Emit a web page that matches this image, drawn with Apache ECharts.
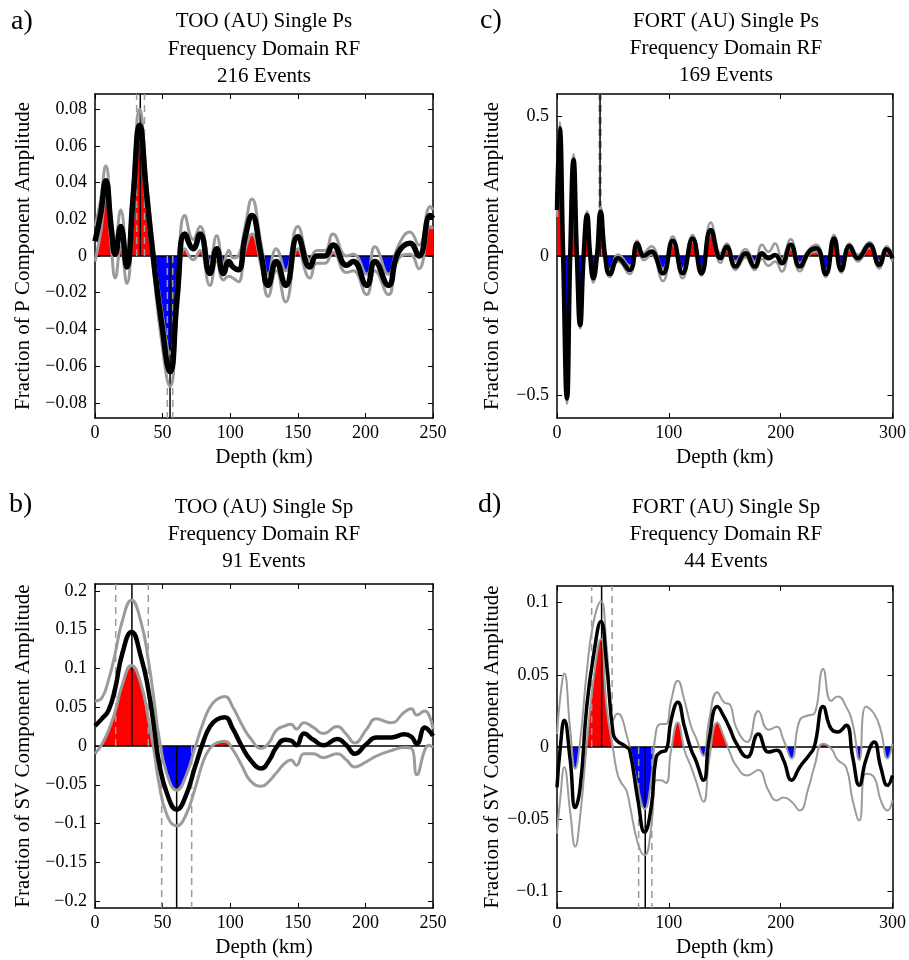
<!DOCTYPE html>
<html><head><meta charset="utf-8">
<script src="https://cdn.jsdelivr.net/npm/echarts@6/dist/echarts.min.js"></script>
<style>html,body{margin:0;padding:0;background:#fff}#c{width:909px;height:960px}</style>
</head><body><div id="c"></div>
<script>
// ---------- Panel a) TOO Ps ----------
const aTitle = ['TOO (AU) Single Ps', 'Frequency Domain RF', '216 Events'];
const aDepth = [0,4,8,12,15,19,23.5,28,33,38,43,49,55.5,61,66.5,72.7,77.7,85,90,95,99,102,106,111,116,123,128,134,141,150,159,164,170,176,186,191,201,207,217,224,233,239.5,248,250];
const aMean  = [0.008,0.022,0.041,0.015,0.001,0.016,-0.006,0.03,0.071,0.035,0.0,-0.035,-0.063,-0.02,0.012,0.004,0.012,-0.0095,0.004,-0.0095,-0.003,-0.006,-0.0075,0.01,0.022,0.0,-0.016,-0.003,-0.016,0.0105,-0.006,0.0,0.0,0.006,-0.005,-0.003,-0.016,-0.003,-0.016,0.0015,0.007,0.0,0.022,0.0205];
const aUpper = [0.016,0.030,0.049,0.022,0.008,0.025,0.002,0.038,0.080,0.042,0.005,-0.028,-0.053,-0.012,0.022,0.009,0.016,-0.003,0.011,-0.004,0.003,-0.001,0.0,0.016,0.031,0.006,-0.010,0.004,-0.008,0.016,-0.002,0.003,0.003,0.012,0.0,0.001,-0.010,0.005,-0.010,0.005,0.013,0.006,0.027,0.025];
const aLower = [-0.003,0.012,0.032,0.005,-0.012,0.005,-0.015,0.020,0.063,0.027,-0.006,-0.045,-0.071,-0.030,0.004,-0.002,0.003,-0.016,-0.003,-0.013,-0.011,-0.012,-0.014,0.003,0.012,-0.006,-0.022,-0.008,-0.025,0.004,-0.012,-0.004,-0.004,0.002,-0.009,-0.008,-0.021,-0.008,-0.021,-0.002,0.001,-0.007,0.016,0.015];
const aPeak = {solid:[33.5], dashed:[30.8,36.6]};
const aTrough = {solid:[55.5], dashed:[53.5,57.5]};
const aXTicks = [0,50,100,150,200,250];
const aYTicks = [-0.08,-0.06,-0.04,-0.02,0,0.02,0.04,0.06,0.08];

// ---------- Panel b) TOO Sp ----------
const bTitle = ['TOO (AU) Single Sp', 'Frequency Domain RF', '91 Events'];
const bDepth = [0,5,10,15,20,27,34,39.5,44,47,53,60.5,67,74,80,85,90,96,102,108.5,115,123,129,134,140.5,145,149,154.6,161.5,169,179,186,192,201,208,219,229,234,238,244,247,250];
const bMean  = [0.026,0.035,0.046,0.075,0.118,0.147,0.115,0.072,0.02,-0.018,-0.06,-0.082,-0.065,-0.027,0.005,0.025,0.034,0.037,0.022,0.0,-0.018,-0.029,-0.018,-0.002,0.008,0.007,0.001,0.016,0.008,0.001,0.009,0.001,-0.010,0.003,0.011,0.011,0.015,0.012,0.003,0.024,0.02,0.013];
const bUpper = [0.058,0.062,0.085,0.12,0.16,0.188,0.16,0.11,0.055,0.015,-0.035,-0.057,-0.04,-0.002,0.03,0.05,0.06,0.064,0.05,0.028,0.01,-0.003,0.005,0.02,0.026,0.028,0.022,0.03,0.024,0.016,0.025,0.015,0.004,0.022,0.035,0.03,0.044,0.048,0.04,0.045,0.04,0.022];
const bLower = [-0.01,0.002,0.02,0.045,0.078,0.104,0.08,0.035,-0.01,-0.045,-0.088,-0.103,-0.09,-0.055,-0.02,-0.003,0.004,0.006,-0.005,-0.025,-0.045,-0.052,-0.045,-0.035,-0.022,-0.018,-0.025,-0.01,-0.01,-0.015,-0.01,-0.018,-0.027,-0.02,-0.013,-0.006,-0.002,-0.003,-0.037,-0.005,0.001,-0.002];
const bPeak = {solid:[27.3], dashed:[15.3,39.4]};
const bTrough = {solid:[60.4], dashed:[49.3,71.5]};
const bXTicks = [0,50,100,150,200,250];
const bYTicks = [-0.2,-0.15,-0.1,-0.05,0,0.05,0.1,0.15,0.2];

// ---------- Panel c) FORT Ps ----------
const cTitle = ['FORT (AU) Single Ps', 'Frequency Domain RF', '169 Events'];
const cDepth = [0,2.4,5.5,8.9,11.8,14.8,17.8,20.7,23.8,26.9,29.7,32.5,35.7,39,43,47.3,54.7,65,71.8,77.7,84.2,94.6,103.5,112.3,121.2,129.2,137.5,146.3,151.7,159.6,168.5,176.8,183.3,189,195,201,209,217,225.5,232,240.3,247.7,254.2,261.6,269,279.3,288.2,294.7,300];
const cMean  = [0.165,0.458,0.0,-0.511,0.0,0.345,0.0,-0.248,0.0,0.147,0.0,-0.08,0.0,0.159,0.0,-0.065,-0.008,-0.05,0.045,0.0,0.016,-0.062,0.055,-0.062,0.063,-0.062,0.093,-0.008,0.033,-0.038,0.01,-0.038,0.01,-0.008,0.004,-0.026,0.04,-0.038,0.016,0.028,-0.065,0.063,-0.05,0.036,-0.008,0.04,-0.032,0.024,-0.008];
const cUpper = [0.19,0.48,0.03,-0.49,0.02,0.365,0.02,-0.23,0.01,0.16,0.01,-0.065,0.01,0.175,0.01,-0.05,0.005,-0.035,0.055,0.012,0.035,-0.045,0.07,-0.045,0.075,-0.05,0.12,0.01,0.045,-0.02,0.025,-0.02,0.04,0.015,0.045,-0.01,0.06,-0.025,0.025,0.04,-0.05,0.075,-0.035,0.045,0.005,0.05,-0.02,0.035,0.005];
const cLower = [0.14,0.43,-0.03,-0.53,-0.02,0.325,-0.02,-0.26,-0.01,0.13,-0.01,-0.095,-0.01,0.14,-0.015,-0.075,-0.02,-0.065,0.03,-0.015,0.005,-0.09,0.04,-0.08,0.05,-0.07,0.075,-0.025,0.02,-0.05,-0.005,-0.05,-0.01,-0.035,-0.02,-0.056,0.025,-0.055,0.005,0.015,-0.075,0.05,-0.06,0.025,-0.02,0.03,-0.045,0.015,-0.02];
const cPeak = {solid:[38.5], dashed:[37.7,39.3]};
const cTrough = {solid:[], dashed:[]};
const cXTicks = [0,100,200,300];
const cYTicks = [-0.5,0,0.5];

// ---------- Panel d) FORT Sp ----------
const dTitle = ['FORT (AU) Single Sp', 'Frequency Domain RF', '44 Events'];
const dDepth = [0,3,6.5,11.8,16.3,20.7,26.6,32.5,39.3,44.3,50.3,54,57.6,62,65,72.4,78.3,84.2,88.7,93,97.5,102,108,114,120,124,131,136,143.4,149.3,155,160,170,180,189,196.5,202.5,209.8,217,225,230,238,245,251,258.5,264.4,270.3,276.2,283.6,289.5,295.5,300];
const dMean  = [-0.028,0.0,0.0185,-0.009,-0.042,-0.028,0.028,0.0625,0.087,0.058,0.009,0.004,0.0023,0.0,-0.0023,-0.037,-0.059,-0.042,-0.007,-0.0035,-0.0023,0.0185,0.031,0.014,-0.002,-0.009,-0.023,0.005,0.028,0.021,0.012,0.003,-0.007,0.009,-0.0035,-0.0023,-0.009,-0.023,-0.014,-0.006,0.0,0.028,0.0127,0.0104,0.015,-0.007,-0.0266,-0.009,0.0035,-0.014,-0.0266,-0.0197];
const dUpper = [0.009,0.035,0.051,0.012,-0.015,0.004,0.052,0.086,0.101,0.07,0.0185,0.023,0.021,0.009,0.0,-0.028,-0.043,-0.023,0.0116,0.016,0.016,0.032,0.046,0.032,0.014,0.007,-0.006,0.0185,0.038,0.031,0.029,0.014,0.0035,0.025,0.012,0.014,0.005,-0.008,0.0185,0.022,0.023,0.054,0.032,0.035,0.028,0.016,-0.009,0.028,0.023,0.0116,-0.008,0.0023];
const dLower = [-0.06,-0.035,-0.014,-0.045,-0.069,-0.048,0.002,0.046,0.075,0.028,-0.0023,-0.0185,-0.025,-0.03,-0.04,-0.067,-0.075,-0.056,-0.023,-0.023,-0.025,-0.0023,0.017,-0.0023,-0.014,-0.023,-0.038,-0.009,0.017,0.007,-0.0046,-0.0127,-0.0197,-0.016,-0.03,-0.037,-0.035,-0.038,-0.044,-0.028,-0.014,0.0023,-0.001,-0.009,-0.014,-0.037,-0.051,-0.0185,-0.021,-0.037,-0.044,-0.037];
const dPeak = {solid:[39.9], dashed:[31,49.3]};
const dTrough = {solid:[78.9], dashed:[73,84.8]};
const dXTicks = [0,100,200,300];
const dYTicks = [-0.1,-0.05,0,0.05,0.1];

const FONT = '"Liberation Serif","Times New Roman",serif';
const GRAY = '#9b9b9b';

const panels = [
  {letter:'a)', title:aTitle, depth:aDepth, mean:aMean, upper:aUpper, lower:aLower, peak:aPeak, trough:aTrough,
   xTicks:aXTicks, yTicks:aYTicks, xMax:250, yMin:-0.0882, yMax:0.0882,
   grid:{left:95, top:94, width:338, height:324}, yName:'Fraction of P Component Amplitude', yGap:61,
   meanW:5.5, grayW:3, titleY:[21.5,49,76.5], letterPos:[11,22]},
  {letter:'c)', title:cTitle, depth:cDepth, mean:cMean, upper:cUpper, lower:cLower, peak:cPeak, trough:cTrough,
   xTicks:cXTicks, yTicks:cYTicks, xMax:300, yMin:-0.581, yMax:0.581,
   grid:{left:557, top:94, width:338, height:324}, yName:'Fraction of P Component Amplitude', yGap:54,
   meanW:4.5, grayW:2.5, titleY:[21,48,75], letterPos:[480,21]},
  {letter:'b)', title:bTitle, depth:bDepth, mean:bMean, upper:bUpper, lower:bLower, peak:bPeak, trough:bTrough,
   xTicks:bXTicks, yTicks:bYTicks, xMax:250, yMin:-0.209, yMax:0.209,
   grid:{left:95, top:584, width:338, height:324}, yName:'Fraction of SV Component Amplitude', yGap:61,
   meanW:4.5, grayW:3, titleY:[507,534,561.5], letterPos:[9,505]},
  {letter:'d)', title:dTitle, depth:dDepth, mean:dMean, upper:dUpper, lower:dLower, peak:dPeak, trough:dTrough,
   xTicks:dXTicks, yTicks:dYTicks, xMax:300, yMin:-0.1116, yMax:0.1116,
   grid:{left:557, top:586, width:338, height:322}, yName:'Fraction of SV Component Amplitude', yGap:54,
   meanW:3.5, grayW:2, titleY:[507,534,561.5], letterPos:[478,505]}
];

const fmt = v => { const r = +(+v).toFixed(4); return (r < 0 ? '\u2212' : '') + String(Math.abs(r)); };
const zip = (xs, ys) => xs.map((x, i) => [x, ys[i]]);

const grids = [], xAxes = [], yAxes = [], series = [], graphics = [];
const redIdx = [], blueIdx = [];

panels.forEach((p, g) => {
  grids.push(Object.assign({containLabel:false}, p.grid));
  const axLine = {show:true, onZero:false, lineStyle:{color:'#000', width:1.5}};
  const lab = {fontFamily:FONT, fontSize:18, color:'#000'};
  xAxes.push({gridIndex:g, type:'value', min:0, max:p.xMax, position:'bottom',
    axisLine:axLine, splitLine:{show:false},
    axisTick:{show:true, inside:true, length:5, customValues:p.xTicks, lineStyle:{color:'#000', width:1}},
    axisLabel:Object.assign({customValues:p.xTicks, margin:6, formatter:fmt}, lab),
    name:'Depth (km)', nameLocation:'middle', nameGap:29,
    nameTextStyle:{fontFamily:FONT, fontSize:21, color:'#000'}});
  xAxes.push({gridIndex:g, type:'value', min:0, max:p.xMax, position:'top',
    axisLine:axLine, splitLine:{show:false},
    axisTick:{show:true, inside:true, length:5, customValues:p.xTicks, lineStyle:{color:'#000', width:1}},
    axisLabel:{show:false}});
  yAxes.push({gridIndex:g, type:'value', min:p.yMin, max:p.yMax, position:'left',
    axisLine:axLine, splitLine:{show:false},
    axisTick:{show:true, inside:true, length:5, customValues:p.yTicks, lineStyle:{color:'#000', width:1}},
    axisLabel:Object.assign({customValues:p.yTicks, margin:8, formatter:fmt}, lab),
    name:p.yName, nameLocation:'middle', nameGap:p.yGap,
    nameTextStyle:{fontFamily:FONT, fontSize:21, color:'#000'}});
  yAxes.push({gridIndex:g, type:'value', min:p.yMin, max:p.yMax, position:'right',
    axisLine:axLine, splitLine:{show:false},
    axisTick:{show:true, inside:true, length:5, customValues:p.yTicks, lineStyle:{color:'#000', width:1}},
    axisLabel:{show:false}});
  const xi = 2 * g, yi = 2 * g;
  const base = {type:'line', xAxisIndex:xi, yAxisIndex:yi, symbol:'none', animation:false, silent:true};

  // red fill (lower bound above zero)
  redIdx.push(series.length);
  series.push(Object.assign({}, base, {data:zip(p.depth, p.lower), smooth:0.5,
    lineStyle:{width:0, opacity:0}, areaStyle:{origin:0, opacity:1}, z:1}));
  // blue fill (upper bound below zero)
  blueIdx.push(series.length);
  series.push(Object.assign({}, base, {data:zip(p.depth, p.upper), smooth:0.5,
    lineStyle:{width:0, opacity:0}, areaStyle:{origin:0, opacity:1}, z:1}));
  // zero line
  series.push(Object.assign({}, base, {data:[[0,0],[p.xMax,0]], lineStyle:{color:'#000', width:1.3}, z:2}));
  // vertical marker lines
  const vline = (x, y0, y1, dashed) => series.push(Object.assign({}, base, {
    data:[[x,y0],[x,y1]],
    lineStyle: dashed ? {color:GRAY, width:1.5, type:[7,5]} : {color:'#000', width:1.5}, z:3}));
  p.peak.dashed.forEach(x => vline(x, 0, p.yMax, true));
  p.trough.dashed.forEach(x => vline(x, 0, p.yMin, true));
  p.peak.solid.forEach(x => vline(x, 0, p.yMax, false));
  p.trough.solid.forEach(x => vline(x, 0, p.yMin, false));
  // bounds
  series.push(Object.assign({}, base, {data:zip(p.depth, p.upper), smooth:0.5, lineStyle:{color:GRAY, width:p.grayW}, z:4}));
  series.push(Object.assign({}, base, {data:zip(p.depth, p.lower), smooth:0.5, lineStyle:{color:GRAY, width:p.grayW}, z:4}));
  // mean
  series.push(Object.assign({}, base, {data:zip(p.depth, p.mean), smooth:0.5, lineStyle:{color:'#000', width:p.meanW}, z:5}));

  // titles and letters
  const cx = p.grid.left + p.grid.width / 2;
  p.title.forEach((t, k) => graphics.push({type:'text', x:cx, y:p.titleY[k], silent:true,
    style:{text:t, fontFamily:FONT, fontSize:21, fill:'#000', textAlign:'center', textVerticalAlign:'middle'}}));
  graphics.push({type:'text', x:p.letterPos[0], y:p.letterPos[1], silent:true,
    style:{text:p.letter, fontFamily:FONT, fontSize:28, fill:'#000', textAlign:'left', textVerticalAlign:'middle'}});
});

const chart = echarts.init(document.getElementById('c'), null, {renderer:'canvas'});
chart.setOption({
  animation:false,
  backgroundColor:'#fff',
  grid:grids, xAxis:xAxes, yAxis:yAxes, series:series, graphic:graphics,
  visualMap:[
    {type:'piecewise', show:false, dimension:1, seriesIndex:redIdx,
     pieces:[{gt:0, lte:5, color:'#ff0000'}, {gte:-5, lte:0, color:'rgba(255,0,0,0)'}]},
    {type:'piecewise', show:false, dimension:1, seriesIndex:blueIdx,
     pieces:[{gte:-5, lt:0, color:'#0000ff'}, {gte:0, lte:5, color:'rgba(0,0,255,0)'}]}
  ]
});
</script>
</body></html>
